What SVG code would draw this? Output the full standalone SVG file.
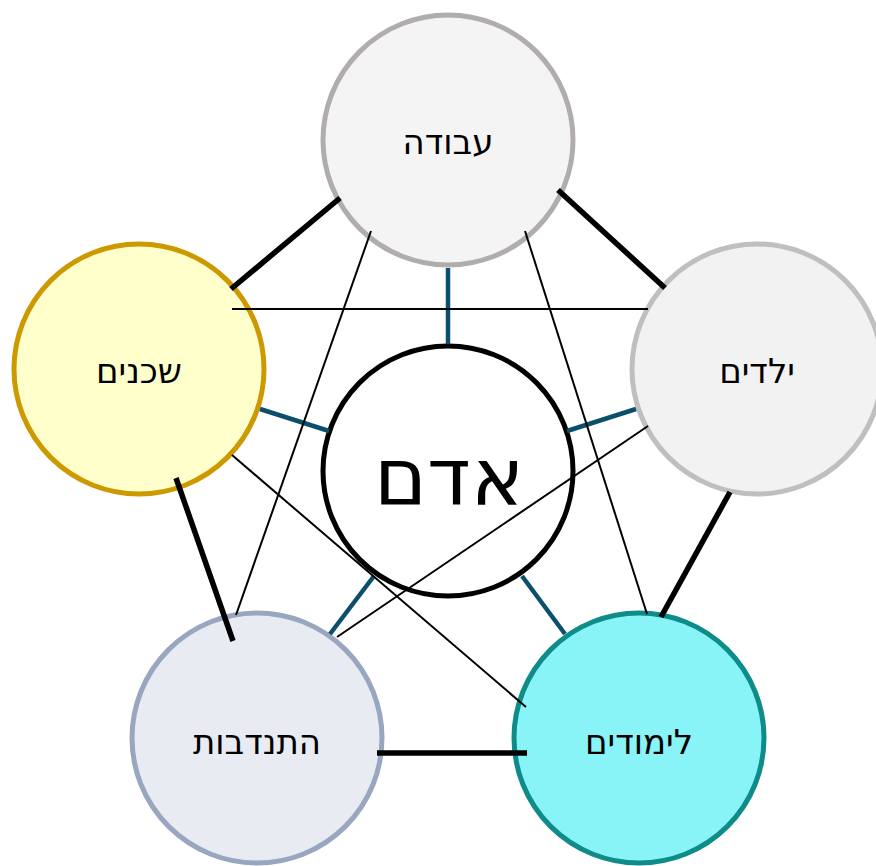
<svg xmlns="http://www.w3.org/2000/svg" width="876" height="866" viewBox="0 0 876 866">
<style>
.n{stroke-width:5}
.t{font-family:"DejaVu Sans","Liberation Sans",sans-serif;font-size:34px;fill:#000;text-anchor:middle;dominant-baseline:central}
.thick{stroke:#000;stroke-width:5.5;fill:none}
.blue{stroke:#0b4f6c;stroke-width:4.5;fill:none}
.thin{stroke:#000;stroke-width:2;fill:none}
</style>
<rect width="876" height="866" fill="#fff"/>
<g id="node-work"><circle class="n" cx="448" cy="140" r="125" fill="#f4f4f4" stroke="#b1adad"/><text class="t" x="448" y="142">עבודה</text></g>
<g id="node-neighbors"><circle class="n" cx="139" cy="369" r="125" fill="#ffffcc" stroke="#cc9900"/><text class="t" x="139" y="371">שכנים</text></g>
<g id="node-children"><circle class="n" cx="757" cy="369" r="125" fill="#f2f2f2" stroke="#bfbfbf"/><text class="t" x="757" y="371">ילדים</text></g>
<g id="node-volunteer"><circle class="n" cx="257" cy="738" r="125" fill="#e8ebf1" stroke="#98a6c0"/><text class="t" x="257" y="742">התנדבות</text></g>
<g id="node-studies"><circle class="n" cx="639" cy="738" r="125" fill="#88f4f7" stroke="#0e8c8a"/><text class="t" x="639" y="742">לימודים</text></g>
<g id="node-person"><circle class="n" cx="448" cy="471" r="125" fill="#fff" stroke="#000"/><text class="t" x="449" y="477" style="font-size:80px">אדם</text></g>
<g id="connectors">
<line class="thick" x1="340" y1="198" x2="231" y2="289"/>
<line class="thick" x1="558" y1="190" x2="665" y2="288"/>
<line class="thick" x1="730" y1="492" x2="661" y2="617"/>
<line class="thick" x1="377" y1="753" x2="527" y2="753"/>
<line class="thick" x1="176" y1="478" x2="233" y2="641"/>
<line class="blue" x1="448" y1="268" x2="448" y2="344"/>
<line class="blue" x1="260" y1="409" x2="329" y2="431"/>
<line class="blue" x1="636" y1="409" x2="567" y2="431"/>
<line class="blue" x1="374" y1="576" x2="330" y2="634"/>
<line class="blue" x1="522" y1="576" x2="565" y2="634"/>
<line class="thin" x1="232" y1="309" x2="648" y2="309"/>
<line class="thin" x1="371" y1="231" x2="236" y2="615"/>
<line class="thin" x1="525" y1="231" x2="647" y2="614"/>
<line class="thin" x1="648" y1="426" x2="337" y2="637"/>
<line class="thin" x1="232" y1="455" x2="526" y2="707"/>
</g>
</svg>
